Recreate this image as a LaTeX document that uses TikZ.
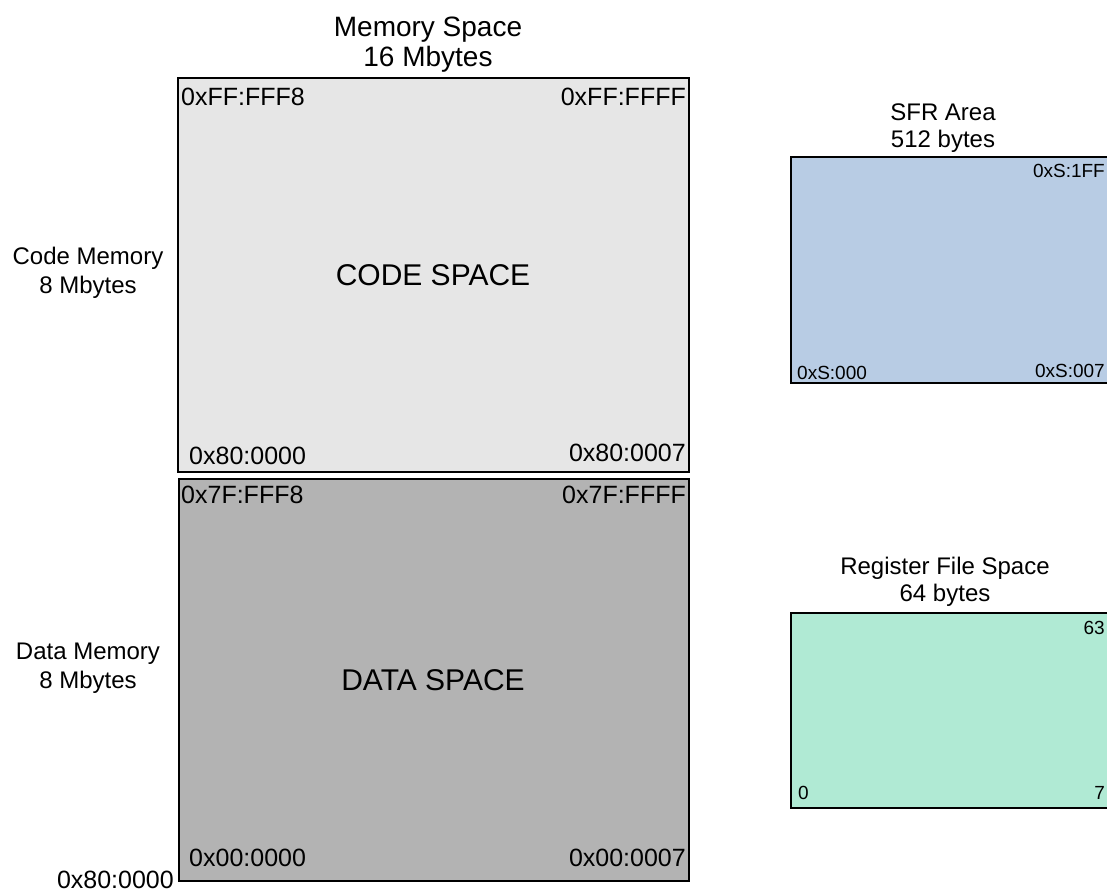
\documentclass[tikz,border=0pt]{standalone}
\usepackage{fontspec}
\setmainfont{Liberation Sans}
\definecolor{codefill}{HTML}{E6E6E6}
\definecolor{datafill}{HTML}{B3B3B3}
\definecolor{sfrfill}{HTML}{B8CCE4}
\definecolor{regfill}{HTML}{B0EAD4}
\begin{document}
\begin{tikzpicture}[x=1pt,y=-1pt,
  region/.style={draw=black,line width=1.5pt},
  title/.style={font=\fontsize{28}{30}\selectfont,align=center,inner sep=0pt},
  side/.style={font=\fontsize{24}{29}\selectfont,align=center,inner sep=0pt},
  rtitle/.style={font=\fontsize{24}{27}\selectfont,align=center,inner sep=0pt},
  corner/.style={font=\fontsize{25}{26}\selectfont,inner sep=0pt},
  small/.style={font=\fontsize{19}{22}\selectfont,inner sep=0pt},
  big/.style={font=\fontsize{30}{32}\selectfont,inner sep=0pt}]
\useasboundingbox (0,0) rectangle (1107,894);
\begin{scope}
\clip (0,0) rectangle (1107,894);
% memory space
\node[title] (mtitle) at (428,45) {Memory Space\\16 Mbytes};
\filldraw[region,fill=codefill] (178,78) rectangle (689,472);
\filldraw[region,fill=datafill] (179,479) rectangle (689,881);
\node[corner,anchor=west] (c1) at (181,97) {0xFF:FFF8};
\node[corner,anchor=east] (c2) at (686,97) {0xFF:FFFF};
\node[big] (cs) at (433,275) {CODE SPACE};
\node[corner,anchor=west] (c3) at (189,456) {0x80:0000};
\node[corner,anchor=east] (c4) at (686,453) {0x80:0007};
\node[corner,anchor=west] (d1) at (181,495) {0x7F:FFF8};
\node[corner,anchor=east] (d2) at (686,495) {0x7F:FFFF};
\node[big] (ds) at (433,680) {DATA SPACE};
\node[corner,anchor=west] (d3) at (189,858) {0x00:0000};
\node[corner,anchor=east] (d4) at (686,858) {0x00:0007};
% side labels
\node[side] (cm) at (88,273) {Code Memory\\8 Mbytes};
\node[side] (dm) at (88,668) {Data Memory\\8 Mbytes};
\node[corner,anchor=east] (bl) at (174,880) {0x80:0000};
% SFR area
\node[rtitle] (stitle) at (943,128) {SFR Area\\512 bytes};
\filldraw[region,fill=sfrfill] (791,157) rectangle (1112,383);
\node[small,anchor=east] (s1) at (1105,171) {0xS:1FF};
\node[small,anchor=west] (s2) at (797,373) {0xS:000};
\node[small,anchor=east] (s3) at (1105,371) {0xS:007};
% register file
\node[rtitle] (rt) at (945,582) {Register File Space\\64 bytes};
\filldraw[region,fill=regfill] (791,613) rectangle (1112,808);
\node[small,anchor=east] (r1) at (1105,628) {63};
\node[small,anchor=west] (r2) at (798,793) {0};
\node[small,anchor=east] (r3) at (1105,793) {7};
\end{scope}
\end{tikzpicture}
\end{document}
